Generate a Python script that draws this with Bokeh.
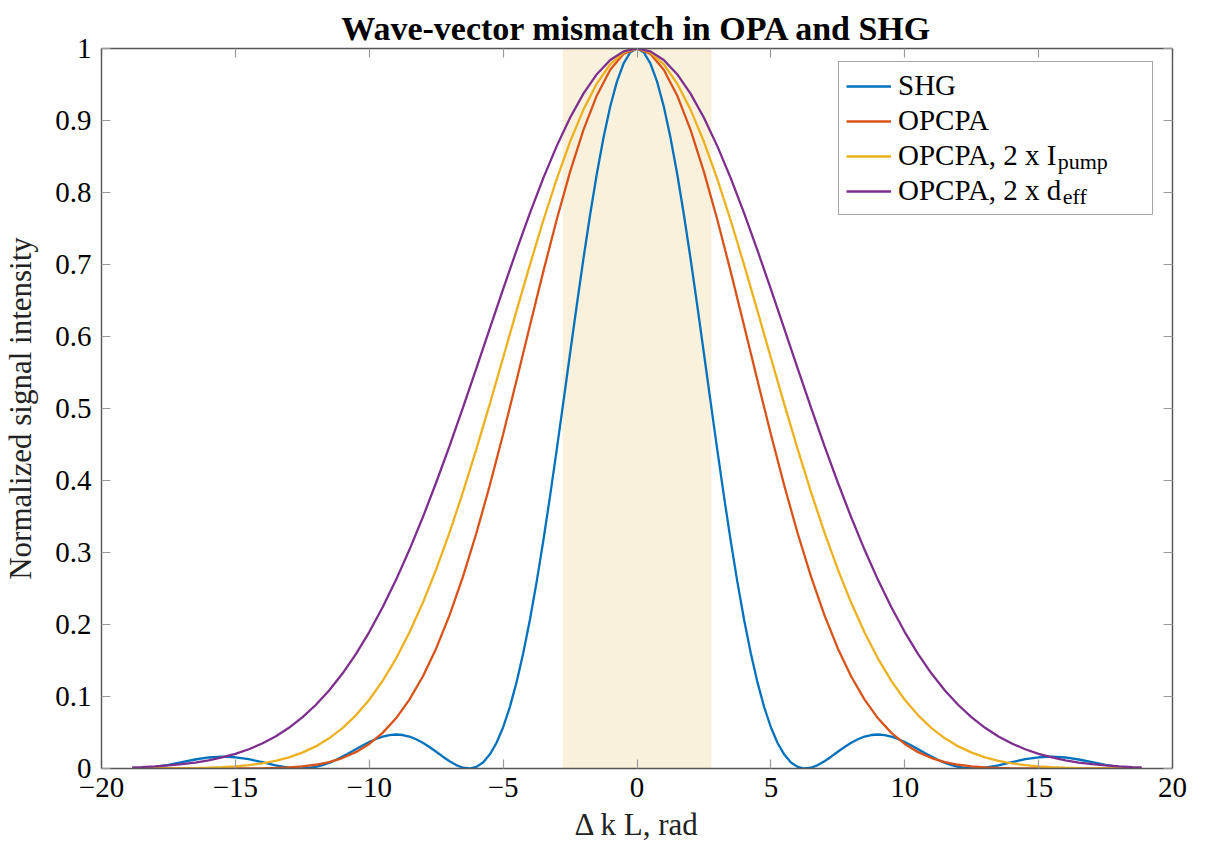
from bokeh.plotting import figure
from bokeh.models import (Range1d, LinearAxis, FixedTicker, BoxAnnotation,
                          Legend, LegendItem, ColumnDataSource, CustomJSTickFormatter)
from bokeh.core.properties import value
from bokeh.embed import file_html
from bokeh.resources import INLINE

# ---------------- data (curves are symmetric in x) -------------
shg_x_half = [0.0, 0.25, 0.5, 0.75, 1.0, 1.25, 1.5, 1.75, 2.0, 2.25, 2.5, 2.75, 3.0, 3.25,
              3.5, 3.75, 4.0, 4.25, 4.5, 4.75, 5.0, 5.25, 5.5, 5.75, 6.0, 6.25, 6.5, 6.75,
              7.0, 7.25, 7.5, 7.75, 8.0, 8.25, 8.5, 8.75, 9.0, 9.25, 9.5, 9.75, 10.0, 10.25,
              10.5, 10.75, 11.0, 11.25, 11.5, 11.75, 12.0, 12.25, 12.5, 12.75, 13.0, 13.5,
              14.0, 14.5, 15.0, 15.5, 16.0, 16.5, 17.0, 17.5, 18.0, 18.5, 18.85]
shg_half = [1.0, 0.9948, 0.9793, 0.9540, 0.9194, 0.8764, 0.8260, 0.7695, 0.7081, 0.6432,
            0.5764, 0.5089, 0.4422, 0.3776, 0.3162, 0.2589, 0.2067, 0.1601, 0.1196, 0.0853,
            0.0573, 0.0354, 0.0193, 0.0084, 0.0022, 0.0000, 0.0011, 0.0047, 0.0100, 0.0164,
            0.0232, 0.0298, 0.0358, 0.0407, 0.0444, 0.0465, 0.0472, 0.0464, 0.0443, 0.0410,
            0.0368, 0.0320, 0.0268, 0.0215, 0.0165, 0.0118, 0.0078, 0.0046, 0.0022, 0.0007,
            0.0000, 0.0002, 0.0011, 0.0045, 0.0088, 0.0129, 0.0156, 0.0165, 0.0153, 0.0125,
            0.0088, 0.0051, 0.0021, 0.0004, 0.0000]

opa_x_half = [0.0, 0.5, 1.0, 1.5, 2.0, 2.5, 3.0, 3.5, 4.0, 4.5, 5.0, 5.5, 6.0, 6.5, 7.0, 7.5,
              8.0, 8.5, 9.0, 9.5, 10.0, 10.5, 11.0, 11.5, 12.0, 12.5, 13.0, 13.5, 14.0, 14.5,
              15.0, 15.5, 16.0, 16.5, 17.0, 17.5, 18.0, 18.5, 18.85]
opcpa_half = [1.0, 0.9926, 0.9705, 0.9348, 0.8869, 0.8286, 0.7622, 0.6901, 0.6149, 0.5388,
              0.4642, 0.3930, 0.3267, 0.2664, 0.2130, 0.1668, 0.1278, 0.0956, 0.0697, 0.0495,
              0.0341, 0.0227, 0.0145, 0.0089, 0.0052, 0.0029, 0.0015, 0.0007, 0.0003, 0.0001,
              0.0000, 0.0000, 0.0000, 0.0000, 0.0000, 0.0000, 0.0000, 0.0000, 0.0000]
pump2_half = [1.0, 0.9945, 0.9781, 0.9513, 0.9151, 0.8704, 0.8185, 0.7611, 0.6995, 0.6355,
              0.5705, 0.5061, 0.4435, 0.3838, 0.3279, 0.2765, 0.2301, 0.1888, 0.1527, 0.1217,
              0.0955, 0.0738, 0.0561, 0.0419, 0.0307, 0.0220, 0.0155, 0.0107, 0.0072, 0.0047,
              0.0030, 0.0019, 0.0011, 0.0006, 0.0003, 0.0002, 0.0001, 0.0000, 0.0000]
deff2_half = [1.0, 0.9960, 0.9840, 0.9643, 0.9374, 0.9038, 0.8644, 0.8199, 0.7713, 0.7196,
              0.6658, 0.6109, 0.5557, 0.5012, 0.4481, 0.3972, 0.3489, 0.3037, 0.2620, 0.2239,
              0.1895, 0.1589, 0.1319, 0.1084, 0.0882, 0.0710, 0.0565, 0.0445, 0.0347, 0.0267,
              0.0203, 0.0153, 0.0113, 0.0083, 0.0060, 0.0042, 0.0030, 0.0020, 0.0016]

shade_range = [-2.78, 2.78]

x_ticks = [-20, -15, -10, -5, 0, 5, 10, 15, 20]
x_tick_labels = ["\u221220", "\u221215", "\u221210", "\u22125", "0", "5", "10", "15", "20"]
y_ticks = [0, 0.1, 0.2, 0.3, 0.4, 0.5, 0.6, 0.7, 0.8, 0.9, 1]
y_tick_labels = ["0", "0.1", "0.2", "0.3", "0.4", "0.5", "0.6", "0.7", "0.8", "0.9", "1"]

title_text = "Wave-vector mismatch in OPA and SHG"
series_names = ["SHG", "OPCPA", "OPCPA, 2 x I", "OPCPA, 2 x d"]
series_colors = ["#0072BD", "#D95319", "#EDB120", "#7E2F8E"]
# subscripts that follow the last two legend labels (position = just after the label text)
sub_texts = ["pump", "eff"]
sub_x = [15.71, 15.90]
sub_y = [0.8430, 0.7944]


def mirror_x(half):
    return [-v for v in reversed(half[1:])] + list(half)


def mirror_y(half):
    return [v for v in reversed(half[1:])] + list(half)


series = [(mirror_x(shg_x_half), mirror_y(shg_half)),
          (mirror_x(opa_x_half), mirror_y(opcpa_half)),
          (mirror_x(opa_x_half), mirror_y(pump2_half)),
          (mirror_x(opa_x_half), mirror_y(deff2_half))]

FONT = "Liberation Serif"
TXT = "29px"
LBL = "31px"

p = figure(width=1206, height=850, x_range=Range1d(-20, 20), y_range=Range1d(0, 1),
           output_backend="svg", toolbar_location=None,
           min_border_left=100, min_border_right=34, min_border_top=48, min_border_bottom=82)
p.background_fill_color = "white"
p.border_fill_color = "white"
p.outline_line_color = None
p.grid.visible = False

p.title.text = title_text
p.title.text_font = FONT
p.title.text_font_style = "bold"
p.title.text_font_size = "34px"
p.title.align = "center"
p.title.vertical_align = "top"
p.title.text_color = "black"
p.title.standoff = 0

shade = BoxAnnotation(left=shade_range[0], right=shade_range[1], fill_color="#FAF1DD",
                      fill_alpha=1.0, line_color=None, level="underlay")
p.add_layout(shade)

renderers = []
for (xs, ys), col in zip(series, series_colors):
    src = ColumnDataSource(dict(x=xs, y=ys))
    r = p.line("x", "y", source=src, line_color=col, line_width=2.3)
    renderers.append(r)

p.text(x=sub_x, y=sub_y, text=sub_texts, text_font=value(FONT), text_font_size=value("22px"),
       text_color="black", text_baseline="alphabetic", text_align="left")


def style_axis(ax, show_labels):
    ax.axis_line_color = "#555555"
    ax.axis_line_width = 1.4
    ax.major_tick_line_color = "#9a9a9a"
    ax.major_tick_line_width = 1.2
    ax.major_tick_in = 9
    ax.major_tick_out = 0
    ax.minor_tick_line_color = None
    ax.major_label_text_font = FONT
    ax.major_label_text_color = "black"
    if show_labels:
        ax.major_label_text_font_size = TXT
    else:
        ax.formatter = CustomJSTickFormatter(code="return ''")
        ax.major_label_text_font_size = "1px"
        ax.major_label_standoff = 0


p.xaxis.ticker = FixedTicker(ticks=x_ticks, minor_ticks=[])
p.yaxis.ticker = FixedTicker(ticks=y_ticks, minor_ticks=[])
p.xaxis.major_label_overrides = dict(zip(x_ticks, x_tick_labels))
p.yaxis.major_label_overrides = dict(zip(y_ticks, y_tick_labels))
for ax in p.xaxis + p.yaxis:
    style_axis(ax, True)
p.xaxis.major_label_standoff = 9
p.yaxis.major_label_standoff = 10

p.xaxis.axis_label = "\u0394 k L, rad"
p.yaxis.axis_label = "Normalized signal intensity"
for ax in p.xaxis + p.yaxis:
    ax.axis_label_text_font = FONT
    ax.axis_label_text_font_size = LBL
    ax.axis_label_text_font_style = "normal"
    ax.axis_label_text_color = "#222222"
p.xaxis.axis_label_standoff = 7
p.yaxis.axis_label_standoff = 14

top_ax = LinearAxis(ticker=FixedTicker(ticks=x_ticks, minor_ticks=[]))
style_axis(top_ax, False)
p.add_layout(top_ax, "above")
right_ax = LinearAxis(ticker=FixedTicker(ticks=y_ticks, minor_ticks=[]))
style_axis(right_ax, False)
p.add_layout(right_ax, "right")

legend = Legend(items=[LegendItem(label=n, renderers=[r]) for n, r in zip(series_names, renderers)],
                location=(737, 553))
legend.label_text_font = FONT
legend.label_text_font_size = TXT
legend.label_text_color = "black"
legend.glyph_width = 45
legend.glyph_height = 26
legend.label_height = 26
legend.label_width = 247
legend.label_standoff = 7
legend.spacing = 2
legend.padding = 7
legend.margin = 0
legend.border_line_color = "#4d4d4d"
legend.border_line_width = 1.2
legend.background_fill_alpha = 0.0
p.add_layout(legend)

open("out.html", "w").write(file_html(p, INLINE))
